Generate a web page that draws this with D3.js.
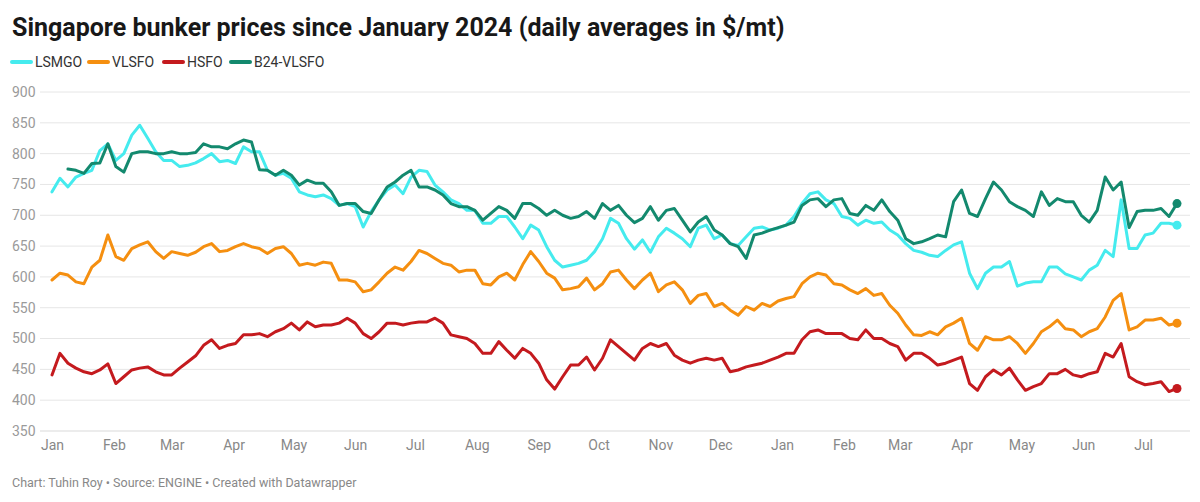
<!DOCTYPE html>
<html><head><meta charset="utf-8">
<script src="https://cdn.jsdelivr.net/npm/d3@7"></script>
<style>
html,body{margin:0;padding:0;background:#fff;}
svg{display:block;font-family:Roboto,"Noto Sans",sans-serif;}
</style></head>
<body>
<svg id="chart" width="1200" height="502"></svg>
<script>
// Sampled every 4 days, Jan 1 2024 – Jul 18 2025
const startDate = new Date(2024, 0, 1);
const endDate = new Date(2025, 6, 19);
const dates = d3.timeDay.range(startDate, endDate, 4);

const seriesNames = ["LSMGO", "VLSFO", "HSFO", "B24-VLSFO"];
const seriesColors = ["#45EBEE", "#F58F10", "#C41A1E", "#13896E"];

const lsmgo = [738,760,746,762,768,773,805,816,789,800,830,846,825,803,789,789,779,781,785,
792,800,787,789,784,811,803,803,773,765,768,760,738,733,730,733,727,716,
719,714,681,706,725,741,749,735,762,773,771,749,738,725,719,708,708,687,
687,698,698,681,662,684,676,649,627,616,619,622,627,641,662,695,687,662,
645,660,640,665,679,671,662,649,679,684,662,668,654,651,665,679,681,676,
679,684,698,719,735,738,725,719,698,695,684,692,687,689,676,668,654,643,
640,635,633,643,652,657,606,581,606,616,616,625,585,590,592,592,616,616,
605,600,595,611,619,643,633,725,646,646,668,671,687,687,684];

const vlsfo = [595,606,603,592,589,616,627,668,633,627,646,652,657,641,630,641,638,635,640,
649,654,641,643,649,654,649,646,638,646,649,638,619,622,619,624,622,595,
595,592,576,579,592,606,616,611,625,643,638,630,622,619,608,611,611,589,
587,600,606,595,620,641,625,606,598,579,581,584,598,579,589,608,611,595,
581,595,606,576,587,592,579,557,570,573,552,557,546,538,552,546,557,552,
561,565,568,589,600,606,603,589,587,579,573,581,570,573,554,541,522,506,
505,511,506,519,525,533,492,481,503,498,498,503,492,476,492,511,519,530,
516,514,503,511,516,535,562,573,514,519,530,530,533,522,525];

const hsfo = [441,476,460,452,446,443,449,459,427,438,449,452,454,446,441,441,452,462,472,
489,498,484,489,492,506,506,508,503,511,516,525,514,527,519,522,522,525,
533,525,508,500,511,525,525,522,525,527,527,533,525,506,503,500,492,476,
476,495,481,468,484,476,460,433,418,438,457,457,470,449,468,498,487,476,
465,484,492,487,492,473,465,460,465,468,465,468,446,449,454,457,460,465,
470,476,476,498,511,514,508,508,508,500,498,514,500,500,492,487,465,476,
476,468,457,460,465,470,427,416,438,449,441,452,433,416,422,427,443,443,
450,441,438,443,446,476,470,492,438,430,425,427,430,414,419];

const b24vlsfo = [null,null,775,773,768,784,785,816,779,770,800,803,803,800,800,803,800,800,802,
816,811,811,808,816,822,819,774,773,765,773,765,749,757,752,752,738,716,
719,719,706,703,725,746,754,765,773,746,746,741,733,719,714,714,708,692,
703,714,708,695,719,719,711,700,708,700,695,698,706,695,719,708,716,700,
688,695,714,692,708,711,692,673,689,698,676,668,654,649,630,668,671,676,
680,684,689,716,725,727,714,725,727,703,700,716,708,725,706,692,662,654,
657,662,668,665,722,741,703,698,727,754,741,722,714,708,698,738,716,727,
722,722,700,689,708,762,741,754,680,706,708,708,711,698,719];

const yTicks = [350,400,450,500,550,600,650,700,750,800,850,900];

const allSeries = [lsmgo, vlsfo, hsfo, b24vlsfo];

const svg = d3.select("#chart");

// Title
svg.append("text").attr("x", 12).attr("y", 36)
  .attr("font-size", 25).attr("font-weight", 700).attr("fill", "#181818")
  .text("Singapore bunker prices since January 2024 (daily averages in $/mt)");

// Legend
const legendX = [12, 89, 164, 231];
seriesNames.forEach((n, i) => {
  const g = svg.append("g").attr("transform", `translate(${legendX[i]},62)`);
  g.append("line").attr("x1", 0).attr("x2", 19).attr("y1", 0).attr("y2", 0)
    .attr("stroke", seriesColors[i]).attr("stroke-width", 4).attr("stroke-linecap", "round");
  g.append("text").attr("x", 23).attr("y", 0).attr("dy", "0.35em")
    .attr("font-size", 14).attr("fill", "#333").text(n);
});

const x = d3.scaleTime().domain([startDate, new Date(2025, 6, 18)]).range([52, 1177]);
const y = d3.scaleLinear().domain([350, 900]).range([431, 92]);

// Grid + y labels
const grid = svg.append("g");
yTicks.forEach(t => {
  grid.append("line").attr("x1", 40).attr("x2", 1190)
    .attr("y1", y(t)).attr("y2", y(t))
    .attr("stroke", t === 350 ? "#d9d9d9" : "#e6e6e6").attr("stroke-width", 1);
  grid.append("text").attr("x", 12).attr("y", y(t)).attr("dy", "0.35em")
    .attr("font-size", 14).attr("fill", "#9a9a9a").text(t);
});

// X axis
const xAxis = d3.axisBottom(x).ticks(d3.timeMonth.every(1)).tickFormat(d3.timeFormat("%b")).tickSize(0).tickPadding(0);
const xg = svg.append("g").attr("transform", "translate(0,450)").call(xAxis);
xg.select(".domain").remove();
xg.selectAll("text").attr("font-size", 14).attr("fill", "#888").attr("font-family", "Roboto").attr("dy", 0);

// Lines
const line = d3.line().defined(d => d[1] != null).x(d => x(d[0])).y(d => y(d[1]));
allSeries.forEach((s, i) => {
  const pts = dates.map((d, j) => [d, s[j]]);
  svg.append("path").datum(pts).attr("d", line).attr("fill", "none")
    .attr("stroke", seriesColors[i]).attr("stroke-width", 3)
    .attr("stroke-linejoin", "round").attr("stroke-linecap", "round");
});
allSeries.forEach((s, i) => {
  const j = s.length - 1;
  svg.append("circle").attr("cx", x(dates[j])).attr("cy", y(s[j])).attr("r", 4.5)
    .attr("fill", seriesColors[i]);
});

// Footer
svg.append("text").attr("x", 12).attr("y", 487).attr("font-size", 12.5).attr("fill", "#888")
  .text("Chart: Tuhin Roy • Source: ENGINE • Created with Datawrapper");
</script>
</body></html>
